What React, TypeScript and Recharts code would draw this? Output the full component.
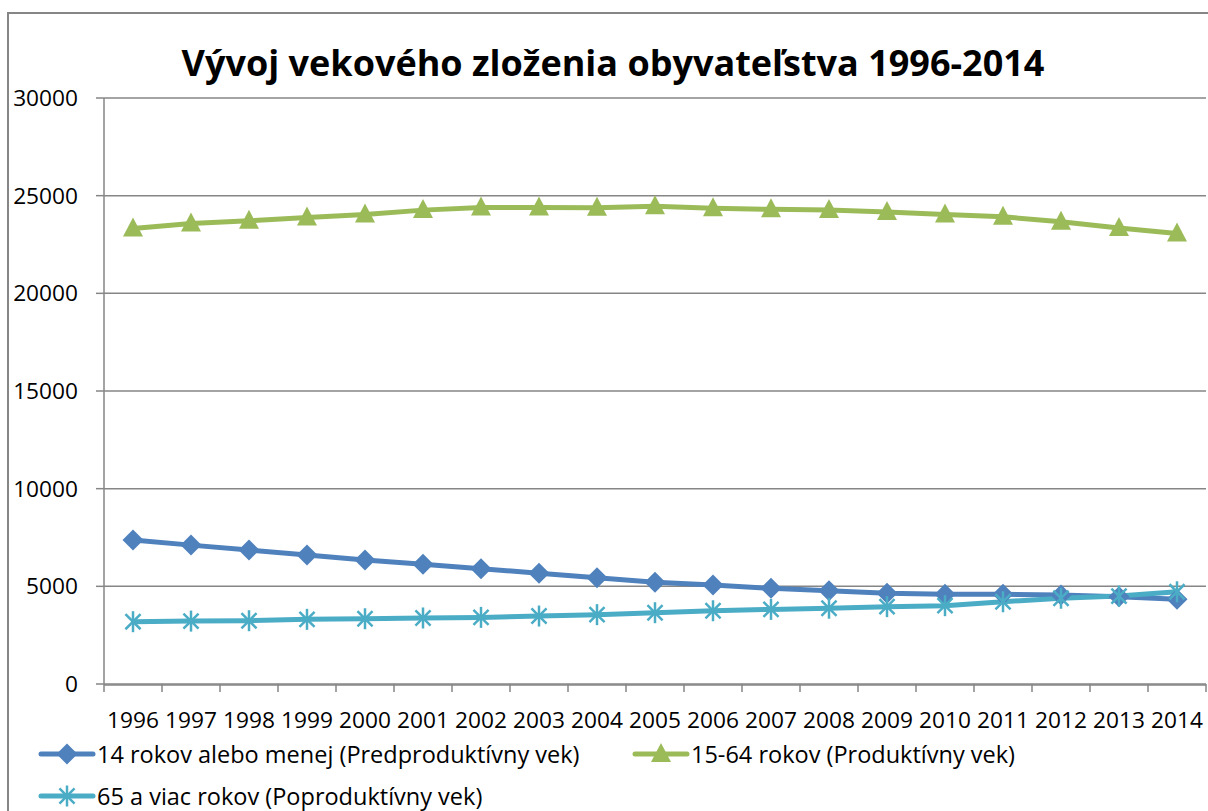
import React from "react";
import { LineChart, Line, XAxis, YAxis, CartesianGrid } from "recharts";

const years = [1996, 1997, 1998, 1999, 2000, 2001, 2002, 2003, 2004, 2005, 2006, 2007, 2008, 2009, 2010, 2011, 2012, 2013, 2014];
// 14 rokov alebo menej
const youngValues = [7370, 7110, 6860, 6600, 6350, 6130, 5900, 5670, 5440, 5210, 5070, 4900, 4780, 4640, 4590, 4590, 4560, 4470, 4340];
// 15-64 rokov
const workingValues = [23320, 23580, 23710, 23880, 24030, 24260, 24400, 24400, 24380, 24460, 24350, 24300, 24260, 24170, 24030, 23920, 23660, 23350, 23060];
// 65 a viac rokov
const seniorValues = [3190, 3220, 3240, 3310, 3340, 3380, 3410, 3480, 3550, 3650, 3750, 3820, 3880, 3960, 4010, 4210, 4390, 4500, 4720];
const yTicks = [0, 5000, 10000, 15000, 20000, 25000, 30000];

const TITLE = "Vývoj vekového zloženia obyvateľstva 1996-2014";
const series = [
  { key: "young", name: "14 rokov alebo menej (Predproduktívny vek)", color: "#4F81BD", marker: "diamond" },
  { key: "working", name: "15-64 rokov (Produktívny vek)", color: "#9BBB59", marker: "triangle" },
  { key: "senior", name: "65 a viac rokov (Poproduktívny vek)", color: "#4BACC6", marker: "star" },
];

const data = years.map((year, i) => ({
  year,
  young: youngValues[i],
  working: workingValues[i],
  senior: seniorValues[i],
}));

// tick marks sit between the categories, like in Excel
const boundaryTicks = [...years.map((y) => y - 0.5), years[years.length - 1] + 0.5];

const FONT = "'Open Sans', 'Noto Sans', sans-serif";
const GRAY = "#868686";

const Marker = ({ type, color, cx, cy }: { type: string; color: string; cx: number; cy: number }) => {
  if (type === "diamond") {
    const r = 10.5;
    return <polygon points={`${cx},${cy - r} ${cx + r},${cy} ${cx},${cy + r} ${cx - r},${cy}`} fill={color} />;
  }
  if (type === "triangle") {
    return <polygon points={`${cx},${cy - 11} ${cx + 10},${cy + 8} ${cx - 10},${cy + 8}`} fill={color} />;
  }
  const r = 10.5;
  const d = r * 0.72;
  return (
    <g stroke={color} strokeWidth={2.5}>
      <line x1={cx} y1={cy - r} x2={cx} y2={cy + r} />
      <line x1={cx - d} y1={cy - d} x2={cx + d} y2={cy + d} />
      <line x1={cx - d} y1={cy + d} x2={cx + d} y2={cy - d} />
    </g>
  );
};

const LegendItem = ({ s }: { s: (typeof series)[number] }) => (
  <div style={{ display: "flex", alignItems: "center" }}>
    <svg width={58} height={24} style={{ marginRight: 1 }}>
      <line x1={3} y1={12} x2={55} y2={12} stroke={s.color} strokeWidth={5} strokeLinecap="round" />
      <Marker type={s.marker} color={s.color} cx={29} cy={12} />
    </svg>
    <span>{s.name}</span>
  </div>
);

export default function App() {
  return (
    <div style={{ position: "fixed", left: 0, top: 0, width: 1208, height: 811, overflow: "hidden", background: "#fff", fontFamily: FONT }}>
      <div style={{ position: "absolute", left: 7, top: 12, width: 1300, height: 900, border: `2px solid ${GRAY}` }} />
      <div style={{ position: "absolute", left: 0, top: 0 }}>
        <LineChart width={1230} height={811} data={data} margin={{ top: 98, right: 24, bottom: 86, left: 10 }}>
          <CartesianGrid horizontal vertical={false} stroke={GRAY} strokeWidth={1.5} />
          <XAxis
            xAxisId="b"
            type="number"
            dataKey="year"
            domain={[1995.5, 2014.5]}
            ticks={years}
            interval={0}
            tickLine={false}
            tickSize={0}
            tickMargin={27}
            axisLine={{ stroke: GRAY, strokeWidth: 1.5 }}
            tick={{ fill: "#000", fontSize: 22.7, fontFamily: FONT }}
            height={40}
          />
          <XAxis
            xAxisId="a"
            type="number"
            dataKey="year"
            domain={[1995.5, 2014.5]}
            ticks={boundaryTicks}
            interval={0}
            tick={() => <g />}
            tickSize={8}
            tickLine={{ stroke: GRAY, strokeWidth: 1.5 }}
            axisLine={false}
            height={1}
          />
          <YAxis
            domain={[0, 30000]}
            ticks={yTicks}
            width={94}
            tickSize={8}
            tickMargin={18}
            tickLine={{ stroke: GRAY, strokeWidth: 1.5 }}
            axisLine={{ stroke: GRAY, strokeWidth: 1.5 }}
            tick={{ fill: "#000", fontSize: 22.7, fontFamily: FONT }}
          />
          {series.map((s) => (
            <Line
              key={s.key}
              xAxisId="b"
              dataKey={s.key}
              name={s.name}
              stroke={s.color}
              strokeWidth={5}
              type="linear"
              isAnimationActive={false}
              dot={(p: any) => <Marker key={`${s.key}-${p.index}`} type={s.marker} color={s.color} cx={p.cx} cy={p.cy} />}
              activeDot={false}
            />
          ))}
        </LineChart>
      </div>
      <div style={{ position: "absolute", left: 0, width: 1226, top: 38, textAlign: "center", fontSize: 36, fontWeight: 700, color: "#000" }}>
        {TITLE}
      </div>
      <div style={{ position: "absolute", left: 38, top: 738, fontSize: 23.5, color: "#000" }}>
        <LegendItem s={series[0]} />
      </div>
      <div style={{ position: "absolute", left: 632, top: 738, fontSize: 23.5, color: "#000" }}>
        <LegendItem s={series[1]} />
      </div>
      <div style={{ position: "absolute", left: 38, top: 780, fontSize: 23.5, color: "#000" }}>
        <LegendItem s={series[2]} />
      </div>
    </div>
  );
}
